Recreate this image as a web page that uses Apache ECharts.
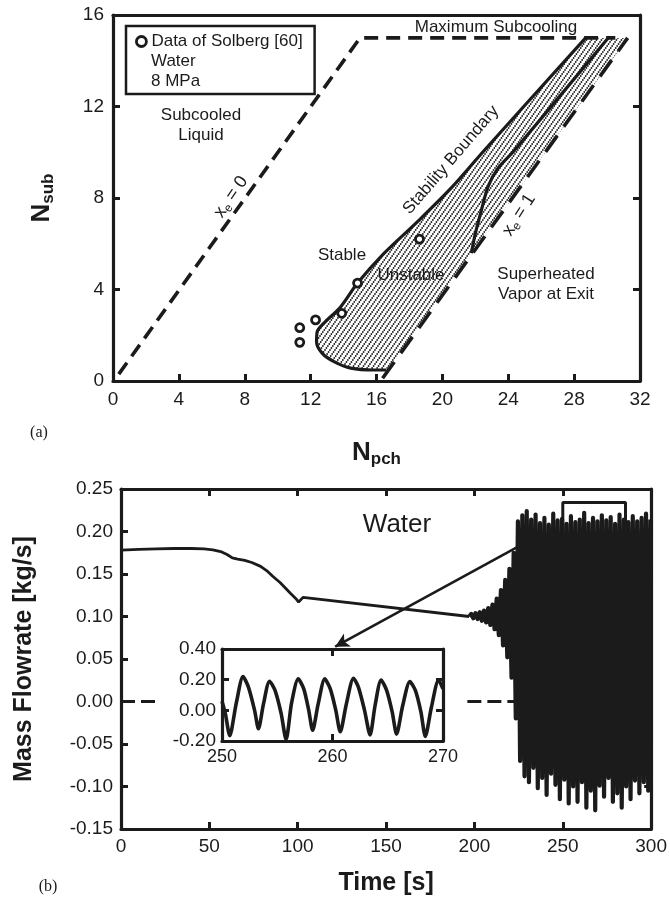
<!DOCTYPE html>
<html>
<head>
<meta charset="utf-8">
<script src="https://cdn.jsdelivr.net/npm/echarts@6/dist/echarts.min.js"></script>
<style>
  html, body { margin: 0; padding: 0; background: #fff; }
  #chart { width: 670px; height: 906px; }
</style>
</head>
<body>
<div id="chart"></div>
<script>
// ---------- (a) stability map, water at 8 MPa ----------
const solbergNpch = [11.34, 11.34, 12.3, 13.89, 14.85, 18.61];
const solbergNsub = [2.33, 1.69, 2.67, 2.96, 4.28, 6.2];

// marginal stability boundary (from its lower tip up to maximum subcooling)
const stabNpch = [16.58, 15.86, 14.44, 13.42, 12.71, 12.36, 12.4, 12.81, 13.83, 14.85, 16.47, 18.51, 20.54, 22.58, 28.7];
const stabNsub = [0.48, 0.48, 0.56, 0.85, 1.21, 1.72, 2.16, 2.53, 3.25, 4.28, 5.59, 6.98, 8.44, 10.11, 15.0];

// inner branch of the unstable zone
const innerNpch = [21.76, 22.01, 22.38, 22.78, 23.39, 24.41, 30.13];
const innerNsub = [5.59, 6.47, 7.49, 8.51, 9.31, 10.11, 15.05];

// x_e = 0 line continuing into the maximum-subcooling limit
const xe0Npch = [0.35, 15.0, 30.5];
const xe0Nsub = [0.3, 15.0, 15.0];

// x_e = 1 line
const xe1Npch = [16.37, 31.25];
const xe1Nsub = [0.12, 15.0];

// ---------- (b) mass flowrate transient ----------
const flowTime = [
  0, 10, 20, 30, 40, 47, 52, 57, 60, 63, 66, 70, 74, 79, 83, 86, 90, 93, 96, 99, 100.5, 101.5, 103,
  197.0, 198.2, 199.4, 200.6, 201.8, 203.0, 204.2, 205.4, 206.6, 207.8, 209.0, 210.2, 211.4, 212.6, 213.8,
  215.0, 216.2, 217.4, 218.6, 219.8, 221.0, 222.2, 223.4,
  224.6, 225.85, 227.1, 228.35, 229.6, 230.85, 232.1, 233.35, 234.6, 235.85, 237.1, 238.35, 239.6, 240.85,
  242.1, 243.35, 244.6, 245.85, 247.1, 248.35, 249.6, 250.85, 252.1, 253.35, 254.6, 255.85, 257.1, 258.35,
  259.6, 260.85, 262.1, 263.35, 264.6, 265.85, 267.1, 268.35, 269.6, 270.85, 272.1, 273.35, 274.6, 275.85,
  277.1, 278.35, 279.6, 280.85, 282.1, 283.35, 284.6, 285.85, 287.1, 288.35, 289.6, 290.85, 292.1, 293.35,
  294.6, 295.85, 297.1, 298.35, 299.6
];
const flowRate = [
  0.178, 0.179, 0.1795, 0.18, 0.18, 0.1795, 0.1785, 0.176, 0.173, 0.169, 0.1675, 0.166, 0.1635, 0.159, 0.153, 0.147, 0.14, 0.1335, 0.127, 0.121, 0.117, 0.119, 0.1225,
  0.100, 0.103, 0.098, 0.104, 0.097, 0.105, 0.095, 0.107, 0.093, 0.110, 0.090, 0.114, 0.085, 0.121, 0.078,
  0.131, 0.066, 0.143, 0.052, 0.156, 0.028, 0.175, -0.02,
  0.212, -0.07, 0.219, -0.088, 0.224, -0.095, 0.214, -0.078, 0.22, -0.102, 0.21, -0.09, 0.216, -0.11,
  0.208, -0.085, 0.221, -0.098, 0.213, -0.115, 0.215, -0.092, 0.209, -0.12, 0.218, -0.1, 0.211, -0.118,
  0.214, -0.095, 0.222, -0.125, 0.21, -0.105, 0.216, -0.128, 0.212, -0.099, 0.219, -0.112, 0.213, -0.09,
  0.217, -0.118, 0.209, -0.108, 0.22, -0.125, 0.214, -0.1, 0.211, -0.115, 0.218, -0.093, 0.212, -0.108,
  0.216, -0.095, 0.221, -0.105, 0.214
];
// the flow stays steady until this time, then oscillates
const onsetTime = 197;

// zoomed window 250-270 s
const insetTime = [250.0, 250.3, 250.7, 251.3, 251.9, 252.4, 252.95, 253.3, 253.75, 254.3, 254.8, 255.35, 255.8, 256.3,
  256.9, 257.4, 257.85, 258.2, 258.7, 259.3, 259.8, 260.3, 260.7, 261.25, 261.9, 262.35, 262.9, 263.4, 263.85, 264.4,
  264.9, 265.4, 265.8, 266.35, 267.0, 267.5, 268.0, 268.4, 268.95, 269.6, 270.0];
const insetRate = [0.06, -0.02, -0.165, 0.05, 0.22, 0.15, 0.0, -0.12, 0.04, 0.19, 0.13, -0.02, -0.19, 0.05,
  0.205, 0.14, 0.0, -0.13, 0.04, 0.205, 0.14, 0.0, -0.14, 0.04, 0.209, 0.15, 0.0, -0.16, 0.03, 0.198,
  0.13, -0.01, -0.155, 0.03, 0.187, 0.13, -0.01, -0.17, 0.02, 0.198, 0.14];

// dashed zero reference, visible on both sides of the inset
const zeroSegments = [[0, 22], [196, 226]];

// outline of the zoomed window and the arrow pointing to the inset
const zoomBoxTime = [250, 285.5];
const zoomBoxRate = [0.1, 0.234];
const arrowFrom = [224.5, 0.182];
const arrowTo = [121.2, 0.0645];

// ---------- styling ----------
const FONT = "'Liberation Sans', Arial, Helvetica, sans-serif";
const SERIF = "'Liberation Serif', 'Times New Roman', serif";
const INK = '#1b1b1b';

function hatchTile() {
  // dotted diagonal lines, parallel to the x_e lines
  const c = document.createElement('canvas');
  c.width = 10; c.height = 14;
  const g = c.getContext('2d');
  g.fillStyle = '#1e1e1e';
  for (let k = 0; k < 7; k++) {
    const t = k / 7;
    for (const off of [0, 5]) {
      const x = (10 * t + off) % 10, y = 14 - 14 * t;
      for (const dx of [-10, 0, 10]) for (const dy of [-14, 0, 14]) {
        g.beginPath(); g.arc(x + dx, y + dy, 0.9, 0, Math.PI * 2); g.fill();
      }
    }
  }
  return c;
}
const hatchImg = hatchTile();

function axis(opts) {
  const label = Object.assign({ show: true, color: INK, fontSize: 19, fontFamily: FONT, margin: 9 }, opts.label || {});
  const tick = Object.assign({ show: true, inside: true, length: 7, lineStyle: { color: INK, width: 3 } }, opts.tick || {});
  const a = {
    type: 'value',
    gridIndex: opts.grid,
    position: opts.position,
    min: opts.min, max: opts.max, interval: opts.interval,
    axisLine: { show: true, onZero: false, lineStyle: { color: INK, width: 3.2 } },
    axisTick: tick,
    axisLabel: label,
    splitLine: { show: false }
  };
  if (opts.name) {
    a.name = opts.name;
    a.nameLocation = 'middle';
    a.nameGap = opts.nameGap;
    a.nameRotate = opts.nameRotate;
    a.nameTextStyle = opts.nameTextStyle;
  }
  return a;
}

const pairs = (xs, ys) => xs.map((x, i) => [x, ys[i]]);
const flowPts = pairs(flowTime, flowRate);
const hatchPts = pairs(stabNpch, stabNsub).concat([[xe1Npch[1], xe1Nsub[1]], [xe1Npch[0] + 0.2, xe1Nsub[0] + 0.2]]);

const subRich = {
  n: { fontSize: 26, fontWeight: 'bold', fontFamily: FONT, color: INK },
  s: { fontSize: 17, fontWeight: 'bold', fontFamily: FONT, color: INK, padding: [14, 0, 0, 0] }
};

function label(text, x, y, opt) {
  opt = opt || {};
  return {
    type: 'text', x: x, y: y, rotation: opt.rotation || 0, z: 50,
    style: {
      text: text, fill: INK, align: opt.align || 'center', verticalAlign: 'middle',
      fontSize: opt.size || 17, fontFamily: opt.family || FONT,
      rich: opt.rich
    }
  };
}
const xeRich = {
  a: { fontSize: 18, fontFamily: FONT, color: INK },
  b: { fontSize: 12, fontFamily: FONT, color: INK, padding: [9, 0, 0, 0] }
};

const option = {
  animation: false,
  backgroundColor: '#fff',
  grid: [
    { left: 113, top: 15, width: 527, height: 366 },
    { left: 121, top: 489, width: 532, height: 340 },
    { left: 222, top: 649, width: 221, height: 92, show: true, backgroundColor: '#fff', borderWidth: 0, z: 5 }
  ],
  xAxis: [
    axis({ grid: 0, position: 'bottom', min: 0, max: 32, interval: 4,
      name: '{n|N}{s|pch}', nameGap: 56, nameTextStyle: { rich: subRich } }),
    axis({ grid: 0, position: 'top', min: 0, max: 32, interval: 4, label: { show: false }, tick: { show: false } }),
    axis({ grid: 1, position: 'bottom', min: 0, max: 300, interval: 50, label: { margin: 8 },
      name: 'Time [s]', nameGap: 42,
      nameTextStyle: { fontSize: 25, fontWeight: 'bold', fontFamily: FONT, color: INK } }),
    axis({ grid: 1, position: 'top', min: 0, max: 300, interval: 50, label: { show: false } }),
    Object.assign(axis({ grid: 2, position: 'bottom', min: 250, max: 270, interval: 10, label: { fontSize: 18, margin: 7 } }), { z: 10 }),
    Object.assign(axis({ grid: 2, position: 'top', min: 250, max: 270, interval: 10, label: { show: false } }), { z: 10 })
  ],
  yAxis: [
    axis({ grid: 0, position: 'left', min: 0, max: 16, interval: 4,
      name: '{n|N}{s|sub}', nameGap: 56, nameRotate: 90, nameTextStyle: { rich: subRich } }),
    axis({ grid: 0, position: 'right', min: 0, max: 16, interval: 4, label: { show: false } }),
    axis({ grid: 1, position: 'left', min: -0.15, max: 0.25, interval: 0.05,
      label: { formatter: v => v.toFixed(2), margin: 8 },
      name: 'Mass Flowrate [kg/s]', nameGap: 84, nameRotate: 90,
      nameTextStyle: { fontSize: 25, fontWeight: 'bold', fontFamily: FONT, color: INK } }),
    axis({ grid: 1, position: 'right', min: -0.15, max: 0.25, interval: 0.05, label: { show: false } }),
    Object.assign(axis({ grid: 2, position: 'left', min: -0.2, max: 0.4, interval: 0.2,
      label: { formatter: v => v.toFixed(2), fontSize: 19, margin: 6 } }), { z: 10 }),
    Object.assign(axis({ grid: 2, position: 'right', min: -0.2, max: 0.4, interval: 0.2, label: { show: false } }), { z: 10 })
  ],
  legend: {
    data: [{ name: 'Data of Solberg [60]', icon: 'circle',
      itemStyle: { color: '#fff', borderColor: INK, borderWidth: 2.8 } }],
    left: 126, top: 26, orient: 'vertical', selectedMode: false,
    padding: [7, 12, 44, 9], itemWidth: 10, itemHeight: 10,
    borderColor: INK, borderWidth: 2.5, backgroundColor: '#fff',
    textStyle: { fontSize: 17, fontFamily: FONT, color: INK }
  },
  series: [
    {
      name: 'unstable region', type: 'custom', xAxisIndex: 0, yAxisIndex: 0, z: 1, silent: true,
      data: hatchPts,
      encode: { x: 0, y: 1 },
      renderItem: (params, api) => {
        if (params.dataIndex !== 0) return null;
        const pts = hatchPts.map(p => api.coord(p));
        return { type: 'polygon', shape: { points: pts },
          style: { fill: { image: hatchImg, repeat: 'repeat' }, stroke: null, lineWidth: 0 } };
      }
    },
    {
      name: 'xe0', type: 'line', xAxisIndex: 0, yAxisIndex: 0, showSymbol: false, z: 3,
      data: pairs(xe0Npch, xe0Nsub),
      lineStyle: { color: INK, width: 3.6, type: [14, 8] }
    },
    {
      name: 'xe1', type: 'line', xAxisIndex: 0, yAxisIndex: 0, showSymbol: false, z: 3,
      data: pairs(xe1Npch, xe1Nsub),
      lineStyle: { color: INK, width: 3.6, type: [20, 11] }
    },
    {
      name: 'stability boundary', type: 'line', xAxisIndex: 0, yAxisIndex: 0, showSymbol: false, z: 4,
      smooth: 0.3, data: pairs(stabNpch, stabNsub),
      lineStyle: { color: INK, width: 3.2 }
    },
    {
      name: 'inner branch', type: 'line', xAxisIndex: 0, yAxisIndex: 0, showSymbol: false, z: 4,
      smooth: 0.3, data: pairs(innerNpch, innerNsub),
      lineStyle: { color: INK, width: 3.2 }
    },
    {
      name: 'Data of Solberg [60]', type: 'scatter', xAxisIndex: 0, yAxisIndex: 0, z: 6,
      symbol: 'circle', symbolSize: 8,
      itemStyle: { color: '#fff', borderColor: INK, borderWidth: 2.8, opacity: 1 },
      data: pairs(solbergNpch, solbergNsub)
    },
    {
      name: 'mass flowrate', type: 'line', xAxisIndex: 2, yAxisIndex: 2, showSymbol: false, z: 3,
      data: flowPts.filter(p => p[0] <= onsetTime),
      lineStyle: { color: INK, width: 2.8 }
    },
    {
      name: 'mass flowrate (oscillating)', type: 'line', xAxisIndex: 2, yAxisIndex: 2, showSymbol: false, z: 3,
      data: flowPts.filter(p => p[0] >= onsetTime),
      lineStyle: { color: INK, width: 4.2, join: 'round' }
    },
    ...zeroSegments.map(seg => ({
      name: 'zero', type: 'line', xAxisIndex: 2, yAxisIndex: 2, showSymbol: false, z: 2,
      data: [[seg[0], 0], [seg[1], 0]],
      lineStyle: { color: INK, width: 3, type: [14, 6] }
    })),
    {
      name: 'zoom window', type: 'line', xAxisIndex: 2, yAxisIndex: 2, showSymbol: false, z: 4,
      data: [[zoomBoxTime[0], zoomBoxRate[0]], [zoomBoxTime[0], zoomBoxRate[1]],
             [zoomBoxTime[1], zoomBoxRate[1]], [zoomBoxTime[1], zoomBoxRate[0]]],
      lineStyle: { color: INK, width: 3 },
      markLine: {
        silent: true, symbol: ['none', 'arrow'], symbolSize: [11, 14],
        label: { show: false },
        lineStyle: { color: INK, width: 2.6, type: 'solid' },
        emphasis: { disabled: true },
        data: [[{ coord: arrowFrom }, { coord: arrowTo }]]
      }
    },
    {
      name: 'inset', type: 'line', xAxisIndex: 4, yAxisIndex: 4, showSymbol: false, z: 12,
      smooth: 0.25, data: pairs(insetTime, insetRate),
      lineStyle: { color: INK, width: 3.6 }
    }
  ],
  graphic: [
    label('Water', 151, 61.7, { align: 'left' }),
    label('8 MPa', 151, 81.7, { align: 'left' }),
    label('Maximum Subcooling', 496, 27),
    label('Subcooled', 201, 115),
    label('Liquid', 201, 135),
    label('{a|x}{b|e}{a| = 0}', 231, 197, { rotation: 0.97, rich: xeRich }),
    label('Stability Boundary', 451, 160, { rotation: 0.86 }),
    label('{a|x}{b|e}{a| = 1}', 519, 215, { rotation: 1.0, rich: xeRich }),
    label('Stable', 342, 255),
    label('Unstable', 411, 275),
    label('Superheated', 546, 274),
    label('Vapor at Exit', 546, 294),
    label('(a)', 39, 433, { family: SERIF, size: 16 }),
    label('(b)', 48, 887, { family: SERIF, size: 16 }),
    label('Water', 397, 525, { size: 26 })
  ]
};

const chart = echarts.init(document.getElementById('chart'), null, { renderer: 'canvas' });
chart.setOption(option);
</script>
</body>
</html>
